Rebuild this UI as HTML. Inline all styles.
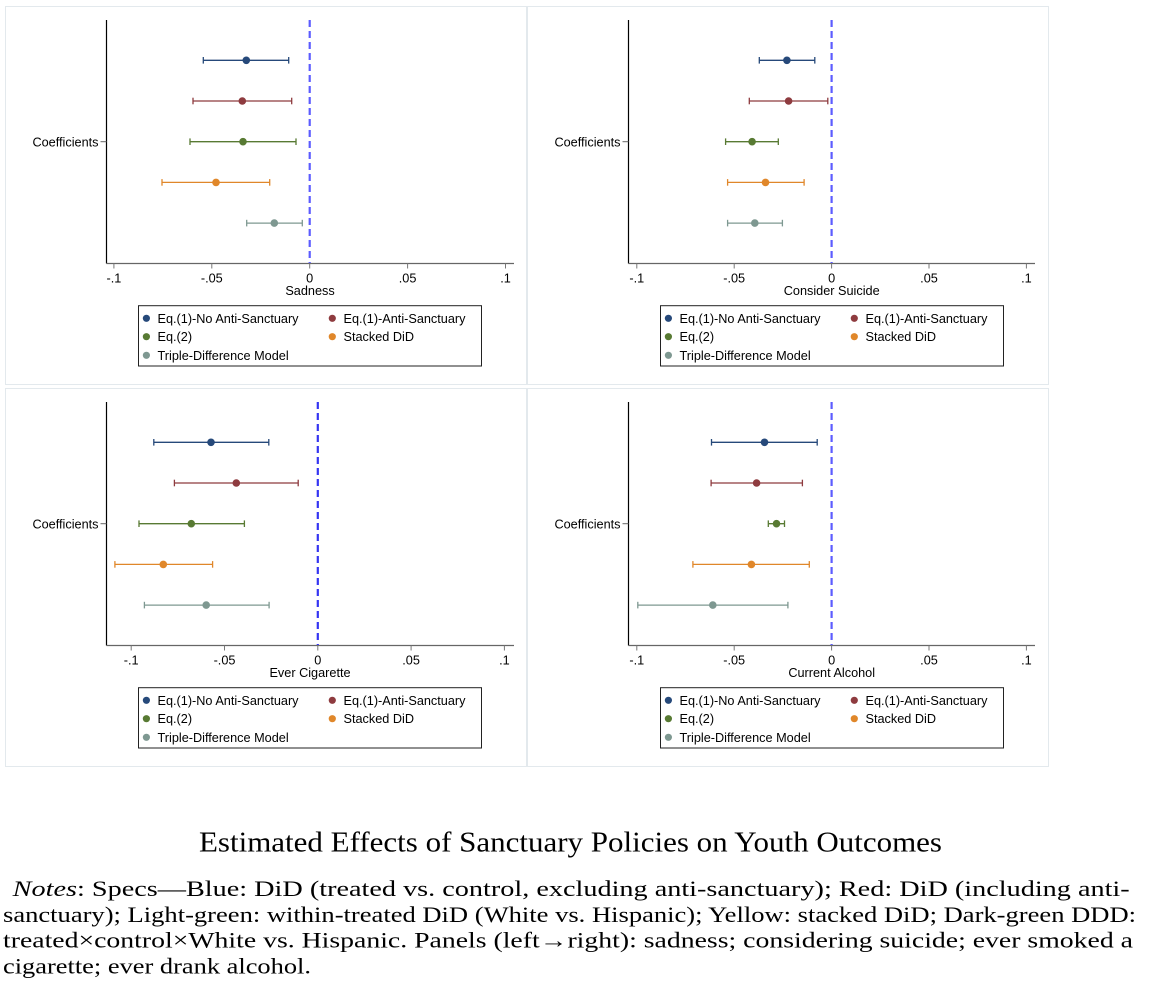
<!DOCTYPE html>
<html>
<head>
<meta charset="utf-8">
<style>
html,body{margin:0;padding:0;background:#fff;}
svg{display:block;}
.ax{font-family:"Liberation Sans",Arial,sans-serif;font-size:12.7px;fill:#000;}
.tt{font-family:"Liberation Serif","Times New Roman",serif;fill:#000;}
</style>
</head>
<body>
<svg width="1162" height="1006" viewBox="0 0 1162 1006" xmlns="http://www.w3.org/2000/svg">
<rect x="0" y="0" width="1162" height="1006" fill="#fff"/>

<!-- frames -->
<g fill="none" stroke="#e3e9ed" stroke-width="1">
<rect x="5.5" y="6.5" width="521" height="378"/>
<rect x="527.5" y="6.5" width="521" height="378"/>
<rect x="5.5" y="388.5" width="521" height="378"/>
<rect x="527.5" y="388.5" width="521" height="378"/>
</g>

<!-- ============ PANEL TL ============ -->
<g>
<line x1="106.5" y1="20" x2="106.5" y2="263.5" stroke="#000" stroke-width="1.2"/>
<line x1="106.5" y1="263.5" x2="514" y2="263.5" stroke="#666" stroke-width="1.2"/>
<line x1="100.5" y1="141.7" x2="106.5" y2="141.7" stroke="#666" stroke-width="1"/>
<text class="ax" x="98.5" y="146.5" text-anchor="end">Coefficients</text>
<g stroke="#777" stroke-width="1">
<line x1="113.9" y1="263.5" x2="113.9" y2="268.5"/>
<line x1="211.8" y1="263.5" x2="211.8" y2="268.5"/>
<line x1="309.7" y1="263.5" x2="309.7" y2="268.5"/>
<line x1="407.6" y1="263.5" x2="407.6" y2="268.5"/>
<line x1="505.5" y1="263.5" x2="505.5" y2="268.5"/>
</g>
<g class="ax" text-anchor="middle">
<text x="113.9" y="282.5">-.1</text>
<text x="211.8" y="282.5">-.05</text>
<text x="309.7" y="282.5">0</text>
<text x="407.6" y="282.5">.05</text>
<text x="505.5" y="282.5">.1</text>
<text x="310" y="295">Sadness</text>
</g>
<line x1="309.7" y1="20" x2="309.7" y2="263" stroke="#5c5cff" stroke-width="2.2" stroke-dasharray="7,4"/>
<g stroke="#26497a" stroke-width="1.3"><line x1="203.3" y1="60.3" x2="288.7" y2="60.3"/><line x1="203.3" y1="57" x2="203.3" y2="63.6"/><line x1="288.7" y1="57" x2="288.7" y2="63.6"/></g>
<circle cx="246.3" cy="60.3" r="3.8" fill="#26497a"/>
<g stroke="#8e3b3f" stroke-width="1.3"><line x1="193" y1="101" x2="291.7" y2="101"/><line x1="193" y1="97.7" x2="193" y2="104.3"/><line x1="291.7" y1="97.7" x2="291.7" y2="104.3"/></g>
<circle cx="242.3" cy="101" r="3.8" fill="#8e3b3f"/>
<g stroke="#587a33" stroke-width="1.3"><line x1="190" y1="141.7" x2="296" y2="141.7"/><line x1="190" y1="138.4" x2="190" y2="145"/><line x1="296" y1="138.4" x2="296" y2="145"/></g>
<circle cx="243" cy="141.7" r="3.8" fill="#587a33"/>
<g stroke="#e0872a" stroke-width="1.3"><line x1="162" y1="182.4" x2="269.7" y2="182.4"/><line x1="162" y1="179.1" x2="162" y2="185.7"/><line x1="269.7" y1="179.1" x2="269.7" y2="185.7"/></g>
<circle cx="216" cy="182.4" r="3.8" fill="#e0872a"/>
<g stroke="#7e9891" stroke-width="1.3"><line x1="246.7" y1="223.1" x2="302.3" y2="223.1"/><line x1="246.7" y1="219.8" x2="246.7" y2="226.4"/><line x1="302.3" y1="219.8" x2="302.3" y2="226.4"/></g>
<circle cx="274.3" cy="223.1" r="3.8" fill="#7e9891"/>
<rect x="138.5" y="305.7" width="343" height="60.3" fill="#fff" stroke="#222" stroke-width="1"/>
<circle cx="146.4" cy="318.3" r="3.6" fill="#26497a"/><text class="ax" x="157.5" y="322.8">Eq.(1)-No Anti-Sanctuary</text>
<circle cx="332.3" cy="318.3" r="3.6" fill="#8e3b3f"/><text class="ax" x="343.5" y="322.8">Eq.(1)-Anti-Sanctuary</text>
<circle cx="146.4" cy="336.7" r="3.6" fill="#587a33"/><text class="ax" x="157.5" y="341.2">Eq.(2)</text>
<circle cx="332.3" cy="336.7" r="3.6" fill="#e0872a"/><text class="ax" x="343.5" y="341.2">Stacked DiD</text>
<circle cx="146.4" cy="355.3" r="3.6" fill="#7e9891"/><text class="ax" x="157.5" y="359.8">Triple-Difference Model</text>
</g>

<!-- ============ PANEL TR ============ -->
<g>
<line x1="628.5" y1="20" x2="628.5" y2="263.5" stroke="#000" stroke-width="1.2"/>
<line x1="628.5" y1="263.5" x2="1035" y2="263.5" stroke="#666" stroke-width="1.2"/>
<line x1="622.5" y1="141.7" x2="628.5" y2="141.7" stroke="#666" stroke-width="1"/>
<text class="ax" x="620.5" y="146.5" text-anchor="end">Coefficients</text>
<g stroke="#777" stroke-width="1">
<line x1="636.8" y1="263.5" x2="636.8" y2="268.5"/>
<line x1="734.2" y1="263.5" x2="734.2" y2="268.5"/>
<line x1="831.6" y1="263.5" x2="831.6" y2="268.5"/>
<line x1="929" y1="263.5" x2="929" y2="268.5"/>
<line x1="1026.4" y1="263.5" x2="1026.4" y2="268.5"/>
</g>
<g class="ax" text-anchor="middle">
<text x="636.8" y="282.5">-.1</text>
<text x="734.2" y="282.5">-.05</text>
<text x="831.6" y="282.5">0</text>
<text x="929" y="282.5">.05</text>
<text x="1026.4" y="282.5">.1</text>
<text x="831.7" y="295">Consider Suicide</text>
</g>
<line x1="831.6" y1="20" x2="831.6" y2="263" stroke="#5c5cff" stroke-width="2.2" stroke-dasharray="7,4"/>
<g stroke="#26497a" stroke-width="1.3"><line x1="759.3" y1="60.3" x2="814.8" y2="60.3"/><line x1="759.3" y1="57" x2="759.3" y2="63.6"/><line x1="814.8" y1="57" x2="814.8" y2="63.6"/></g>
<circle cx="786.9" cy="60.3" r="3.8" fill="#26497a"/>
<g stroke="#8e3b3f" stroke-width="1.3"><line x1="749.3" y1="101" x2="827.8" y2="101"/><line x1="749.3" y1="97.7" x2="749.3" y2="104.3"/><line x1="827.8" y1="97.7" x2="827.8" y2="104.3"/></g>
<circle cx="788.6" cy="101" r="3.8" fill="#8e3b3f"/>
<g stroke="#587a33" stroke-width="1.3"><line x1="725.6" y1="141.7" x2="778.3" y2="141.7"/><line x1="725.6" y1="138.4" x2="725.6" y2="145"/><line x1="778.3" y1="138.4" x2="778.3" y2="145"/></g>
<circle cx="752.1" cy="141.7" r="3.8" fill="#587a33"/>
<g stroke="#e0872a" stroke-width="1.3"><line x1="727.6" y1="182.4" x2="804.1" y2="182.4"/><line x1="727.6" y1="179.1" x2="727.6" y2="185.7"/><line x1="804.1" y1="179.1" x2="804.1" y2="185.7"/></g>
<circle cx="765.5" cy="182.4" r="3.8" fill="#e0872a"/>
<g stroke="#7e9891" stroke-width="1.3"><line x1="727.6" y1="223.1" x2="782.4" y2="223.1"/><line x1="727.6" y1="219.8" x2="727.6" y2="226.4"/><line x1="782.4" y1="219.8" x2="782.4" y2="226.4"/></g>
<circle cx="754.8" cy="223.1" r="3.8" fill="#7e9891"/>
<rect x="660.5" y="305.7" width="343" height="60.3" fill="#fff" stroke="#222" stroke-width="1"/>
<circle cx="668.4" cy="318.3" r="3.6" fill="#26497a"/><text class="ax" x="679.5" y="322.8">Eq.(1)-No Anti-Sanctuary</text>
<circle cx="854.3" cy="318.3" r="3.6" fill="#8e3b3f"/><text class="ax" x="865.5" y="322.8">Eq.(1)-Anti-Sanctuary</text>
<circle cx="668.4" cy="336.7" r="3.6" fill="#587a33"/><text class="ax" x="679.5" y="341.2">Eq.(2)</text>
<circle cx="854.3" cy="336.7" r="3.6" fill="#e0872a"/><text class="ax" x="865.5" y="341.2">Stacked DiD</text>
<circle cx="668.4" cy="355.3" r="3.6" fill="#7e9891"/><text class="ax" x="679.5" y="359.8">Triple-Difference Model</text>
</g>

<!-- ============ PANEL BL ============ -->
<g>
<line x1="106.5" y1="402" x2="106.5" y2="645.5" stroke="#000" stroke-width="1.2"/>
<line x1="106.5" y1="645.5" x2="514" y2="645.5" stroke="#666" stroke-width="1.2"/>
<line x1="100.5" y1="523.7" x2="106.5" y2="523.7" stroke="#666" stroke-width="1"/>
<text class="ax" x="98.5" y="528.5" text-anchor="end">Coefficients</text>
<g stroke="#777" stroke-width="1">
<line x1="131.2" y1="645.5" x2="131.2" y2="650.5"/>
<line x1="224.5" y1="645.5" x2="224.5" y2="650.5"/>
<line x1="317.8" y1="645.5" x2="317.8" y2="650.5"/>
<line x1="411.1" y1="645.5" x2="411.1" y2="650.5"/>
<line x1="504.4" y1="645.5" x2="504.4" y2="650.5"/>
</g>
<g class="ax" text-anchor="middle">
<text x="131.2" y="664.5">-.1</text>
<text x="224.5" y="664.5">-.05</text>
<text x="317.8" y="664.5">0</text>
<text x="411.1" y="664.5">.05</text>
<text x="504.4" y="664.5">.1</text>
<text x="310" y="677">Ever Cigarette</text>
</g>
<line x1="317.8" y1="402" x2="317.8" y2="645" stroke="#3535f2" stroke-width="2.2" stroke-dasharray="7,4"/>
<g stroke="#26497a" stroke-width="1.3"><line x1="153.8" y1="442.3" x2="268.8" y2="442.3"/><line x1="153.8" y1="439" x2="153.8" y2="445.6"/><line x1="268.8" y1="439" x2="268.8" y2="445.6"/></g>
<circle cx="211" cy="442.3" r="3.8" fill="#26497a"/>
<g stroke="#8e3b3f" stroke-width="1.3"><line x1="174.4" y1="483" x2="298.2" y2="483"/><line x1="174.4" y1="479.7" x2="174.4" y2="486.3"/><line x1="298.2" y1="479.7" x2="298.2" y2="486.3"/></g>
<circle cx="236.3" cy="483" r="3.8" fill="#8e3b3f"/>
<g stroke="#587a33" stroke-width="1.3"><line x1="139" y1="523.7" x2="244.4" y2="523.7"/><line x1="139" y1="520.4" x2="139" y2="527"/><line x1="244.4" y1="520.4" x2="244.4" y2="527"/></g>
<circle cx="191.3" cy="523.7" r="3.8" fill="#587a33"/>
<g stroke="#e0872a" stroke-width="1.3"><line x1="114.9" y1="564.4" x2="212.6" y2="564.4"/><line x1="114.9" y1="561.1" x2="114.9" y2="567.7"/><line x1="212.6" y1="561.1" x2="212.6" y2="567.7"/></g>
<circle cx="163.3" cy="564.4" r="3.8" fill="#e0872a"/>
<g stroke="#7e9891" stroke-width="1.3"><line x1="144.4" y1="605.1" x2="269.1" y2="605.1"/><line x1="144.4" y1="601.8" x2="144.4" y2="608.4"/><line x1="269.1" y1="601.8" x2="269.1" y2="608.4"/></g>
<circle cx="206.2" cy="605.1" r="3.8" fill="#7e9891"/>
<rect x="138.5" y="687.7" width="343" height="60.3" fill="#fff" stroke="#222" stroke-width="1"/>
<circle cx="146.4" cy="700.3" r="3.6" fill="#26497a"/><text class="ax" x="157.5" y="704.8">Eq.(1)-No Anti-Sanctuary</text>
<circle cx="332.3" cy="700.3" r="3.6" fill="#8e3b3f"/><text class="ax" x="343.5" y="704.8">Eq.(1)-Anti-Sanctuary</text>
<circle cx="146.4" cy="718.7" r="3.6" fill="#587a33"/><text class="ax" x="157.5" y="723.2">Eq.(2)</text>
<circle cx="332.3" cy="718.7" r="3.6" fill="#e0872a"/><text class="ax" x="343.5" y="723.2">Stacked DiD</text>
<circle cx="146.4" cy="737.3" r="3.6" fill="#7e9891"/><text class="ax" x="157.5" y="741.8">Triple-Difference Model</text>
</g>

<!-- ============ PANEL BR ============ -->
<g>
<line x1="628.5" y1="402" x2="628.5" y2="645.5" stroke="#000" stroke-width="1.2"/>
<line x1="628.5" y1="645.5" x2="1035" y2="645.5" stroke="#666" stroke-width="1.2"/>
<line x1="622.5" y1="523.7" x2="628.5" y2="523.7" stroke="#666" stroke-width="1"/>
<text class="ax" x="620.5" y="528.5" text-anchor="end">Coefficients</text>
<g stroke="#777" stroke-width="1">
<line x1="636.8" y1="645.5" x2="636.8" y2="650.5"/>
<line x1="734.2" y1="645.5" x2="734.2" y2="650.5"/>
<line x1="831.6" y1="645.5" x2="831.6" y2="650.5"/>
<line x1="929" y1="645.5" x2="929" y2="650.5"/>
<line x1="1026.4" y1="645.5" x2="1026.4" y2="650.5"/>
</g>
<g class="ax" text-anchor="middle">
<text x="636.8" y="664.5">-.1</text>
<text x="734.2" y="664.5">-.05</text>
<text x="831.6" y="664.5">0</text>
<text x="929" y="664.5">.05</text>
<text x="1026.4" y="664.5">.1</text>
<text x="831.7" y="677">Current Alcohol</text>
</g>
<line x1="831.6" y1="402" x2="831.6" y2="645" stroke="#5c5cff" stroke-width="2.2" stroke-dasharray="7,4"/>
<g stroke="#26497a" stroke-width="1.3"><line x1="711.5" y1="442.3" x2="817.2" y2="442.3"/><line x1="711.5" y1="439" x2="711.5" y2="445.6"/><line x1="817.2" y1="439" x2="817.2" y2="445.6"/></g>
<circle cx="764.5" cy="442.3" r="3.8" fill="#26497a"/>
<g stroke="#8e3b3f" stroke-width="1.3"><line x1="711.1" y1="483" x2="802.4" y2="483"/><line x1="711.1" y1="479.7" x2="711.1" y2="486.3"/><line x1="802.4" y1="479.7" x2="802.4" y2="486.3"/></g>
<circle cx="756.6" cy="483" r="3.8" fill="#8e3b3f"/>
<g stroke="#587a33" stroke-width="1.3"><line x1="768.3" y1="523.7" x2="784.5" y2="523.7"/><line x1="768.3" y1="520.4" x2="768.3" y2="527"/><line x1="784.5" y1="520.4" x2="784.5" y2="527"/></g>
<circle cx="776.5" cy="523.7" r="3.8" fill="#587a33"/>
<g stroke="#e0872a" stroke-width="1.3"><line x1="692.9" y1="564.4" x2="809.3" y2="564.4"/><line x1="692.9" y1="561.1" x2="692.9" y2="567.7"/><line x1="809.3" y1="561.1" x2="809.3" y2="567.7"/></g>
<circle cx="751.4" cy="564.4" r="3.8" fill="#e0872a"/>
<g stroke="#7e9891" stroke-width="1.3"><line x1="637.8" y1="605.1" x2="787.9" y2="605.1"/><line x1="637.8" y1="601.8" x2="637.8" y2="608.4"/><line x1="787.9" y1="601.8" x2="787.9" y2="608.4"/></g>
<circle cx="712.8" cy="605.1" r="3.8" fill="#7e9891"/>
<rect x="660.5" y="687.7" width="343" height="60.3" fill="#fff" stroke="#222" stroke-width="1"/>
<circle cx="668.4" cy="700.3" r="3.6" fill="#26497a"/><text class="ax" x="679.5" y="704.8">Eq.(1)-No Anti-Sanctuary</text>
<circle cx="854.3" cy="700.3" r="3.6" fill="#8e3b3f"/><text class="ax" x="865.5" y="704.8">Eq.(1)-Anti-Sanctuary</text>
<circle cx="668.4" cy="718.7" r="3.6" fill="#587a33"/><text class="ax" x="679.5" y="723.2">Eq.(2)</text>
<circle cx="854.3" cy="718.7" r="3.6" fill="#e0872a"/><text class="ax" x="865.5" y="723.2">Stacked DiD</text>
<circle cx="668.4" cy="737.3" r="3.6" fill="#7e9891"/><text class="ax" x="679.5" y="741.8">Triple-Difference Model</text>
</g>

<!-- ============ CAPTION ============ -->
<text class="tt" x="199" y="851.5" font-size="29" textLength="743" lengthAdjust="spacingAndGlyphs">Estimated Effects of Sanctuary Policies on Youth Outcomes</text>
<text class="tt" x="12.7" y="896" font-size="22" textLength="1117" lengthAdjust="spacingAndGlyphs"><tspan font-style="italic">Notes</tspan>: Specs—Blue: DiD (treated vs. control, excluding anti-sanctuary); Red: DiD (including anti-</text>
<text class="tt" x="3" y="922" font-size="22" textLength="1133" lengthAdjust="spacingAndGlyphs">sanctuary); Light-green: within-treated DiD (White vs. Hispanic); Yellow: stacked DiD; Dark-green DDD:</text>
<text class="tt" x="3" y="947.5" font-size="22" textLength="1130" lengthAdjust="spacingAndGlyphs">treated×control×White vs. Hispanic. Panels (left→right): sadness; considering suicide; ever smoked a</text>
<text class="tt" x="3" y="973.5" font-size="22" textLength="308" lengthAdjust="spacingAndGlyphs">cigarette; ever drank alcohol.</text>
</svg>
</body>
</html>
